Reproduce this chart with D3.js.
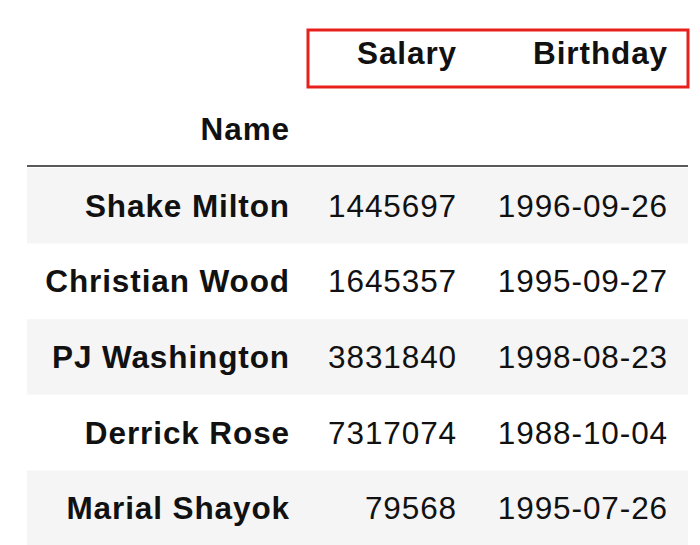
<!DOCTYPE html>
<html><head><meta charset="utf-8">
<script src="https://cdn.jsdelivr.net/npm/d3@7"></script>
<style>body{margin:0;background:#fff}</style></head>
<body><svg id="c" width="700" height="545"></svg>
<script>
const columns = ["Salary", "Birthday"];
const indexName = "Name";
const names = ["Shake Milton", "Christian Wood", "PJ Washington", "Derrick Rose", "Marial Shayok"];
const salaries = [1445697, 1645357, 3831840, 7317074, 79568];
const birthdays = ["1996-09-26", "1995-09-27", "1998-08-23", "1988-10-04", "1995-07-26"];

const svg = d3.select("#c");
const font = "Liberation Sans, Arial, sans-serif";
const fs = 31.5;
const ls = 0.9;
const y = d3.scaleBand().domain(d3.range(names.length)).range([168, 546]).padding(0);
const colRight = [290, 457, 668];

svg.selectAll("rect.row").data(names).join("rect")
  .attr("x", 27).attr("width", 661)
  .attr("y", (d, i) => y(i)).attr("height", y.bandwidth())
  .attr("fill", (d, i) => i % 2 === 0 ? "#f5f5f5" : "#ffffff");

svg.append("line").attr("x1", 27).attr("x2", 688).attr("y1", 166).attr("y2", 166)
  .attr("stroke", "#222").attr("stroke-width", 1.5);

function txt(sel, bold) {
  return sel.attr("text-anchor", "end").attr("font-family", font)
    .attr("font-weight", bold ? "bold" : "normal").attr("font-size", fs)
    .attr("letter-spacing", ls).attr("fill", "#111");
}

txt(svg.selectAll("text.col").data(columns).join("text")
  .attr("x", (d, i) => colRight[i + 1]).attr("y", 64), true).text(d => d);

svg.append("rect").attr("x", 308).attr("y", 30).attr("width", 380).attr("height", 57)
  .attr("fill", "none").attr("stroke", "#e8201c").attr("stroke-width", 3);

txt(svg.append("text").attr("x", colRight[0]).attr("y", 140), true).text(indexName);

const rows = svg.selectAll("g.r").data(names).join("g")
  .attr("transform", (d, i) => `translate(0,${y(i) + y.bandwidth() / 2 + 11})`);
txt(rows.append("text").attr("x", colRight[0]), true).text(d => d);
txt(rows.append("text").attr("x", colRight[1]), false).text((d, i) => salaries[i]);
txt(rows.append("text").attr("x", colRight[2]), false).text((d, i) => birthdays[i]);
</script></body></html>
